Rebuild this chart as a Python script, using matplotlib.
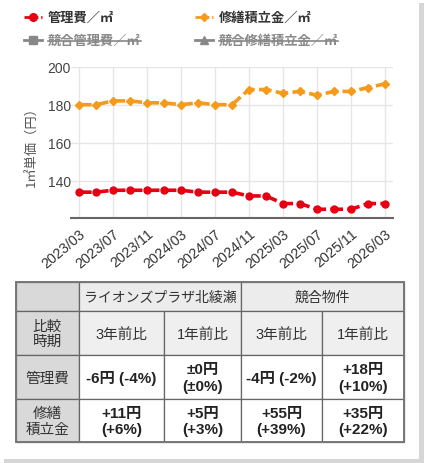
import matplotlib
matplotlib.use("Agg")
import matplotlib.pyplot as plt
from matplotlib.patches import Rectangle
from matplotlib.lines import Line2D

plt.rcParams['font.family'] = ['Noto Sans CJK JP', 'DejaVu Sans']

# ---------------- data ----------------
months = ["2023/03", "2023/05", "2023/07", "2023/09", "2023/11", "2024/01",
          "2024/03", "2024/05", "2024/07", "2024/09", "2024/11", "2025/01",
          "2025/03", "2025/05", "2025/07", "2025/09", "2025/11", "2026/01",
          "2026/03"]
kanri = [134, 134, 135, 135, 135, 135, 135, 134, 134, 134, 132, 132,
         128, 128, 125, 125, 125, 128, 128]
shuzen = [180, 180, 182, 182, 181, 181, 180, 181, 180, 180, 188, 188,
          186, 187, 185, 187, 187, 189, 191]
yticks = [140, 160, 180, 200]
legend_labels = ["管理費／㎡", "修繕積立金／㎡", "競合管理費／㎡", "競合修繕積立金／㎡"]
ylabel = "1㎡単価（円）"

tbl_group = ["ライオンズプラザ北綾瀬", "競合物件"]
tbl_period = ["3年前比", "1年前比", "3年前比", "1年前比"]
tbl_rows = ["管理費", "修繕\n積立金"]
tbl_corner = "比較\n時期"
tbl_kanri = ["-6円 (-4%)", "±0円\n(±0%)", "-4円 (-2%)", "+18円\n(+10%)"]
tbl_shuzen = ["+11円\n(+6%)", "+5円\n(+3%)", "+55円\n(+39%)", "+35円\n(+22%)"]

RED = "#e60012"
ORANGE = "#f59a1b"
W, H = 424, 464
LATIN = ['Liberation Sans', 'Noto Sans CJK JP', 'DejaVu Sans']

fig = plt.figure(figsize=(W / 100, H / 100), dpi=100)
fig.patch.set_facecolor("white")

# overlay axes in pixel coordinates
ov = fig.add_axes([0, 0, 1, 1], zorder=0)
ov.set_xlim(0, W)
ov.set_ylim(H, 0)
ov.axis("off")

# card shadow strips
ov.add_patch(Rectangle((419, 4), 5, H - 4, facecolor="#d6d6d6", edgecolor="none"))
ov.add_patch(Rectangle((4, 460), W - 4, 4, facecolor="#d6d6d6", edgecolor="none"))

# ---------------- chart ----------------
L, R, T, B = 71, 393, 67.7, 219
ax = fig.add_axes([L / W, (H - B) / H, (R - L) / W, (B - T) / H], zorder=2)
ax.patch.set_alpha(0)
x = list(range(len(months)))
ax.plot(x, shuzen, color=ORANGE, lw=2.6, ls=(0, (3.5, 1.2)), marker="D",
        ms=4.2, mec=ORANGE, mfc=ORANGE, zorder=3)
ax.plot(x, kanri, color=RED, lw=2.6, ls=(0, (3.5, 1.2)), marker="o",
        ms=5, mec=RED, mfc=RED, zorder=3)
ax.set_xlim(-0.47, len(months) - 1 + 0.47)
ax.set_ylim(120.4, 200)
ax.set_yticks(yticks)
ax.set_yticklabels([str(v) for v in yticks], family=LATIN, fontsize=10, color="#444")
tick_idx = x[::2]
ax.set_xticks(tick_idx)
ax.set_xticklabels([months[i] for i in tick_idx], rotation=40, ha="right",
                   rotation_mode="anchor", family=LATIN, fontsize=10.3, color="#333")
ax.tick_params(axis="y", length=0, pad=0)
ax.tick_params(axis="x", length=0, pad=6)
ax.grid(True, color="#e6e6e6", lw=1)
ax.set_axisbelow(True)
for s in ["top", "right", "left"]:
    ax.spines[s].set_visible(False)
ax.spines["bottom"].set_color("#666")
ax.spines["bottom"].set_linewidth(1.5)
ov.text(32, 144, ylabel, rotation=90, ha="center", va="center",
        fontsize=9.5, color="#555")

# ---------------- legend ----------------
leg = [
    (24, 18, RED, "o", (0, (2, 1)), legend_labels[0], False),
    (195, 18, ORANGE, "D", (0, (2, 1)), legend_labels[1], False),
    (24, 41, "#888", "s", "-", legend_labels[2], True),
    (195, 41, "#888", "^", "-", legend_labels[3], True),
]
fig.canvas.draw()
renderer = fig.canvas.get_renderer()
for lx, ly, c, m, ls, lab, hidden in leg:
    ov.add_line(Line2D([lx, lx + 18], [ly, ly], color=c, lw=2, ls=ls))
    ov.add_line(Line2D([lx + 9], [ly], color=c, marker=m, ms=5.5 if m != "D" else 4.5,
                       mec=c, mfc=c, ls="none"))
    t = ov.text(lx + 24, ly, lab, ha="left", va="center", fontsize=9.5,
                fontweight="bold", color="#888" if hidden else "#333")
    if hidden:
        bb = t.get_window_extent(renderer=renderer)
        x0 = bb.x0 * W / fig.bbox.width
        x1 = bb.x1 * W / fig.bbox.width
        ov.add_line(Line2D([x0, x1], [ly + 0.5, ly + 0.5], color="#888", lw=1.2))

# ---------------- table ----------------
cols = [16, 79, 164, 241, 322, 404]
rows = [283, 312, 356, 400, 443]
GREY = "#d9d9d9"
LIGHT = "#ececec"
BORDER = "#666"


def cell(c0, c1, r0, r1, fc, text, bold=False, color="#333", fs=10, family=None, ls=1.15):
    ov.add_patch(Rectangle((cols[c0], rows[r0]), cols[c1] - cols[c0], rows[r1] - rows[r0],
                           facecolor=fc, edgecolor=BORDER, lw=0.9))
    if text:
        kw = {}
        if family:
            kw["family"] = family
        ov.text((cols[c0] + cols[c1]) / 2, (rows[r0] + rows[r1]) / 2 + 0.5, text,
                ha="center", va="center", fontsize=fs, color=color,
                fontweight="bold" if bold else "normal", linespacing=ls, **kw)


cell(0, 1, 0, 1, GREY, "")
cell(1, 3, 0, 1, LIGHT, tbl_group[0])
cell(3, 5, 0, 1, LIGHT, tbl_group[1])
cell(0, 1, 1, 2, GREY, tbl_corner, fs=10.5)
for i, p in enumerate(tbl_period):
    cell(i + 1, i + 2, 1, 2, "#efefef", p, family=LATIN, fs=10.5)
cell(0, 1, 2, 3, GREY, tbl_rows[0], fs=10.5)
cell(0, 1, 3, 4, GREY, tbl_rows[1], fs=10.5)
for i, v in enumerate(tbl_kanri):
    cell(i + 1, i + 2, 2, 3, "white", v, bold=True, color="#222", fs=11, family=LATIN, ls=1.2)
for i, v in enumerate(tbl_shuzen):
    cell(i + 1, i + 2, 3, 4, "white", v, bold=True, color="#222", fs=11, family=LATIN, ls=1.2)
ov.add_patch(Rectangle((cols[0], rows[0]), cols[-1] - cols[0], rows[-1] - rows[0],
                       facecolor="none", edgecolor="#777", lw=1.4))

fig.savefig("out.png", dpi=100, facecolor="white")
